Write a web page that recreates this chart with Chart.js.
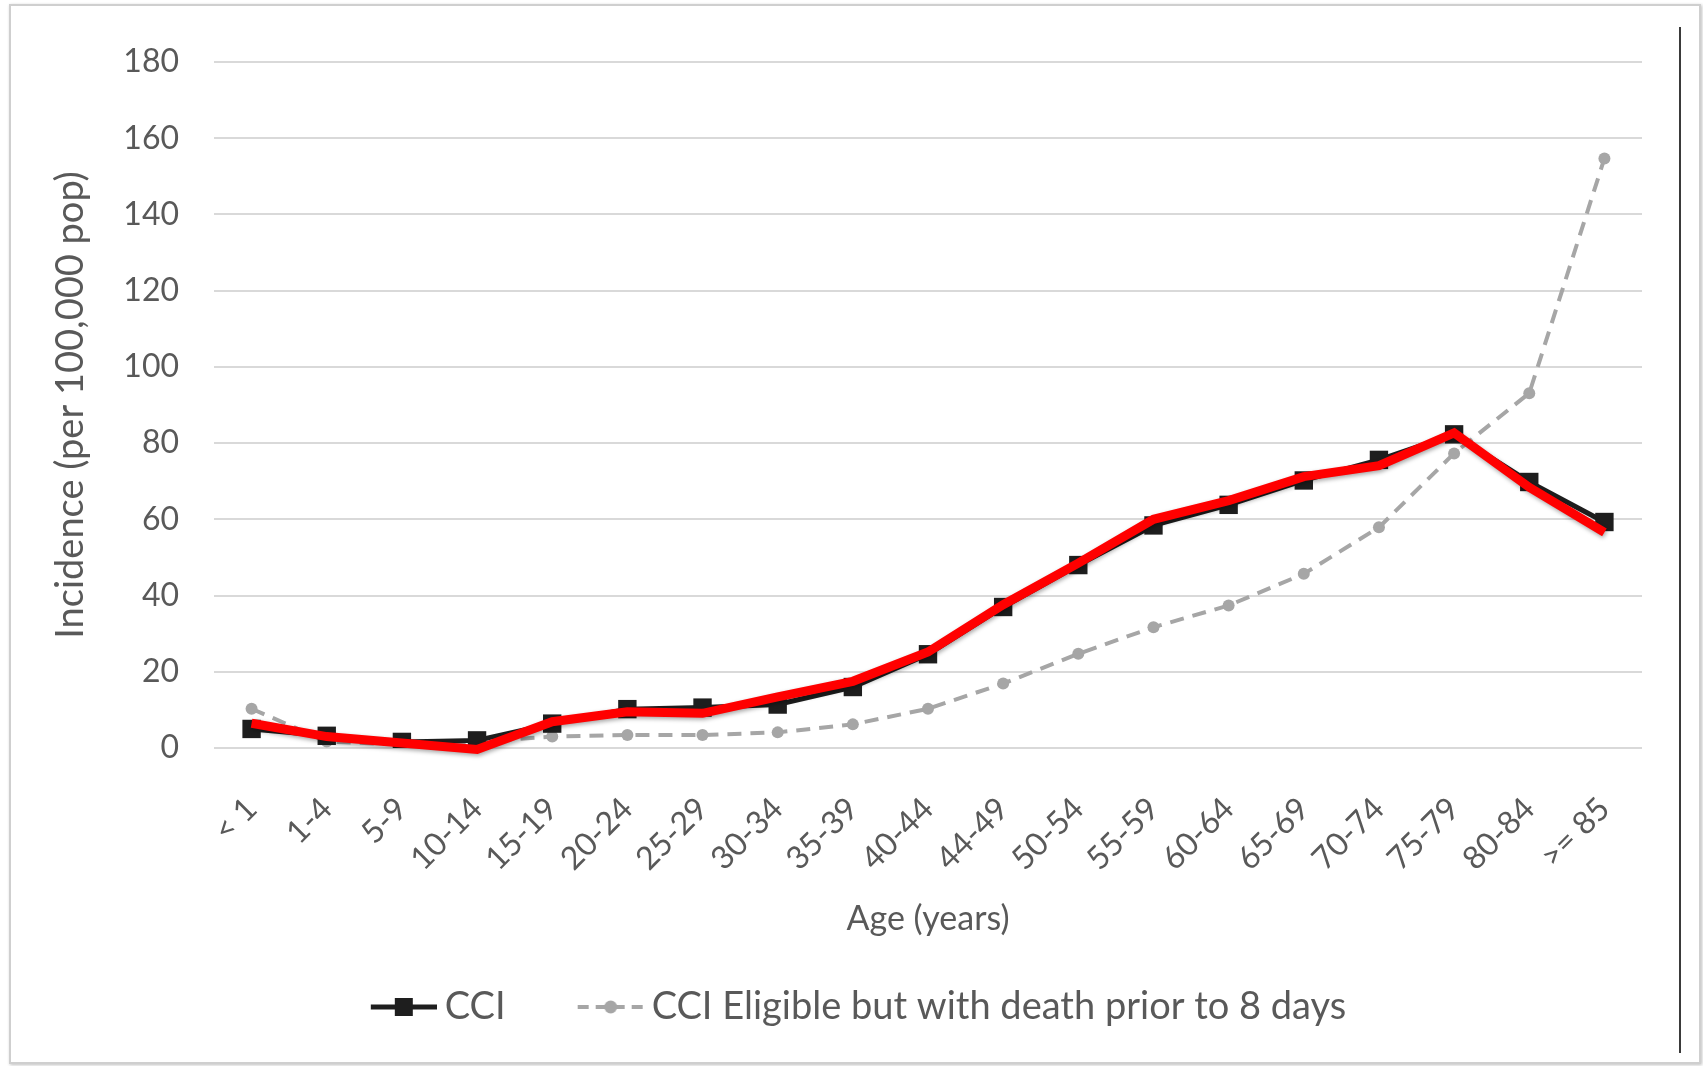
<!DOCTYPE html>
<html>
<head>
<meta charset="utf-8">
<script src="https://cdn.jsdelivr.net/npm/chart.js@4.4.0/dist/chart.umd.min.js"></script>
<style>
  html, body { margin: 0; padding: 0; background: #fff; }
  body { width: 1703px; height: 1066px; position: relative; overflow: hidden; }
  .frame {
    position: absolute; left: 9px; top: 4px; width: 1688px; height: 1056px;
    border: 2px solid #cfcfcf; box-shadow: 1px 1px 3px rgba(0,0,0,0.25);
  }
  .rline { position: absolute; left: 1679px; top: 27px; width: 2px; height: 1026px; background: #3a3a3a; }
  #chart { position: absolute; left: 0; top: 0; }
</style>
</head>
<body>
<div class="frame"></div>
<div class="rline"></div>
<canvas id="chart" width="1703" height="1066"></canvas>
<script>
const ageGroups = ["< 1", "1-4", "5-9", "10-14", "15-19", "20-24", "25-29", "30-34", "35-39",
  "40-44", "44-49", "50-54", "55-59", "60-64", "65-69", "70-74", "75-79", "80-84", ">= 85"];

const cciValues = [5, 3.2, 1.6, 2, 6.4, 10.2, 10.6, 11.4, 16, 24.6, 37, 48, 58.4, 63.8, 70.2, 75.6, 82.3, 69.8, 59.3];
const deathValues = [10.3, 1.7, 0.9, 1.7, 3, 3.4, 3.4, 4.1, 6.2, 10.3, 16.9, 24.7, 31.7, 37.4, 45.7, 57.9, 77.3, 93.1, 154.7];
const redValues = [6.5, 3, 1.3, -0.4, 6.9, 9.5, 9.1, 13.4, 17.5, 25.2, 37.6, 48.5, 60, 64.9, 71.2, 74.1, 82.7, 68.4, 56.6];

const yTicks = [0, 20, 40, 60, 80, 100, 120, 140, 160, 180];

const FONT = "Lato";
const TEXT = "#595959";

// legend icon: line with marker, drawn in the right part of a wider canvas
function legendIcon(color, dashed, square) {
  const c = document.createElement("canvas");
  c.width = 112; c.height = 24;
  const g = c.getContext("2d");
  const x0 = 46, x1 = 112, cy = 12;
  g.strokeStyle = color;
  g.lineWidth = dashed ? 4 : 5;
  if (dashed) g.setLineDash([11, 7]);
  g.beginPath(); g.moveTo(x0, cy); g.lineTo(x1, cy); g.stroke();
  g.setLineDash([]);
  g.fillStyle = color;
  const mx = (x0 + x1) / 2;
  if (square) g.fillRect(mx - 9, cy - 9, 18, 18);
  else { g.beginPath(); g.arc(mx, cy, 6.5, 0, Math.PI * 2); g.fill(); }
  return c;
}

const shadowPlugin = {
  id: "redShadow",
  beforeDatasetDraw(chart, args) {
    if (args.index !== 2) return;
    const ctx = chart.ctx;
    ctx.save();
    ctx.shadowColor = "rgba(0,0,0,0.35)";
    ctx.shadowBlur = 4;
    ctx.shadowOffsetX = 1;
    ctx.shadowOffsetY = 2;
  },
  afterDatasetDraw(chart, args) {
    if (args.index !== 2) return;
    chart.ctx.restore();
  }
};

new Chart(document.getElementById("chart"), {
  type: "line",
  data: {
    labels: ageGroups,
    datasets: [
      {
        label: "CCI",
        data: cciValues,
        borderColor: "#1e1e1e",
        backgroundColor: "#1e1e1e",
        borderWidth: 5,
        pointStyle: "rect",
        pointRadius: 13,
        pointBorderWidth: 0,
        order: 1,
        legendIcon: legendIcon("#1e1e1e", false, true)
      },
      {
        label: "CCI Eligible but with death prior to 8 days",
        data: deathValues,
        borderColor: "#a6a6a6",
        backgroundColor: "#a6a6a6",
        borderWidth: 4,
        borderDash: [14, 9],
        pointStyle: "circle",
        pointRadius: 6,
        pointBorderWidth: 0,
        order: 2,
        legendIcon: legendIcon("#a6a6a6", true, false)
      },
      {
        label: "fit",
        data: redValues,
        borderColor: "#ff0000",
        borderWidth: 9,
        pointRadius: 0,
        clip: false,
        order: 0
      }
    ]
  },
  options: {
    responsive: false,
    animation: false,
    layout: { padding: { left: 40, right: 61, top: 62, bottom: 30 } },
    plugins: {
      tooltip: { enabled: false },
      legend: {
        position: "bottom",
        labels: {
          usePointStyle: true,
          pointStyleWidth: 90,
          color: TEXT,
          font: { family: FONT, size: 38 },
          padding: 37,
          filter: (item) => item.datasetIndex !== 2,
          generateLabels(chart) {
            return chart.data.datasets.map((ds, i) => ({
              text: ds.label,
              pointStyle: ds.legendIcon,
              fontColor: TEXT,
              lineWidth: 0,
              strokeStyle: "transparent",
              fillStyle: "transparent",
              hidden: false,
              datasetIndex: i
            }));
          }
        }
      }
    },
    scales: {
      x: {
        offset: true,
        grid: { display: false, drawTicks: false },
        border: { display: false },
        ticks: {
          color: TEXT, font: { family: FONT, size: 32 },
          minRotation: 45, maxRotation: 45, padding: 42, autoSkip: false
        },
        title: {
          display: true, text: "Age (years)", color: TEXT,
          font: { family: FONT, size: 34 }, padding: { top: 10, bottom: 12 }
        },
        afterFit: (s) => { s.height = 203; }
      },
      y: {
        min: 0, max: 180,
        afterBuildTicks: (s) => { s.ticks = yTicks.map((v) => ({ value: v })); },
        grid: { color: "#d9d9d9", lineWidth: 2, drawTicks: false },
        border: { display: false },
        ticks: { color: TEXT, font: { family: FONT, size: 32 }, padding: 35 },
        title: {
          display: true, text: "Incidence (per 100,000 pop)", color: TEXT,
          font: { family: FONT, size: 38 }, padding: { top: 8, bottom: 0 }
        },
        afterFit: (s) => { s.width = 174; }
      }
    }
  },
  plugins: [shadowPlugin]
});
</script>
</body>
</html>
